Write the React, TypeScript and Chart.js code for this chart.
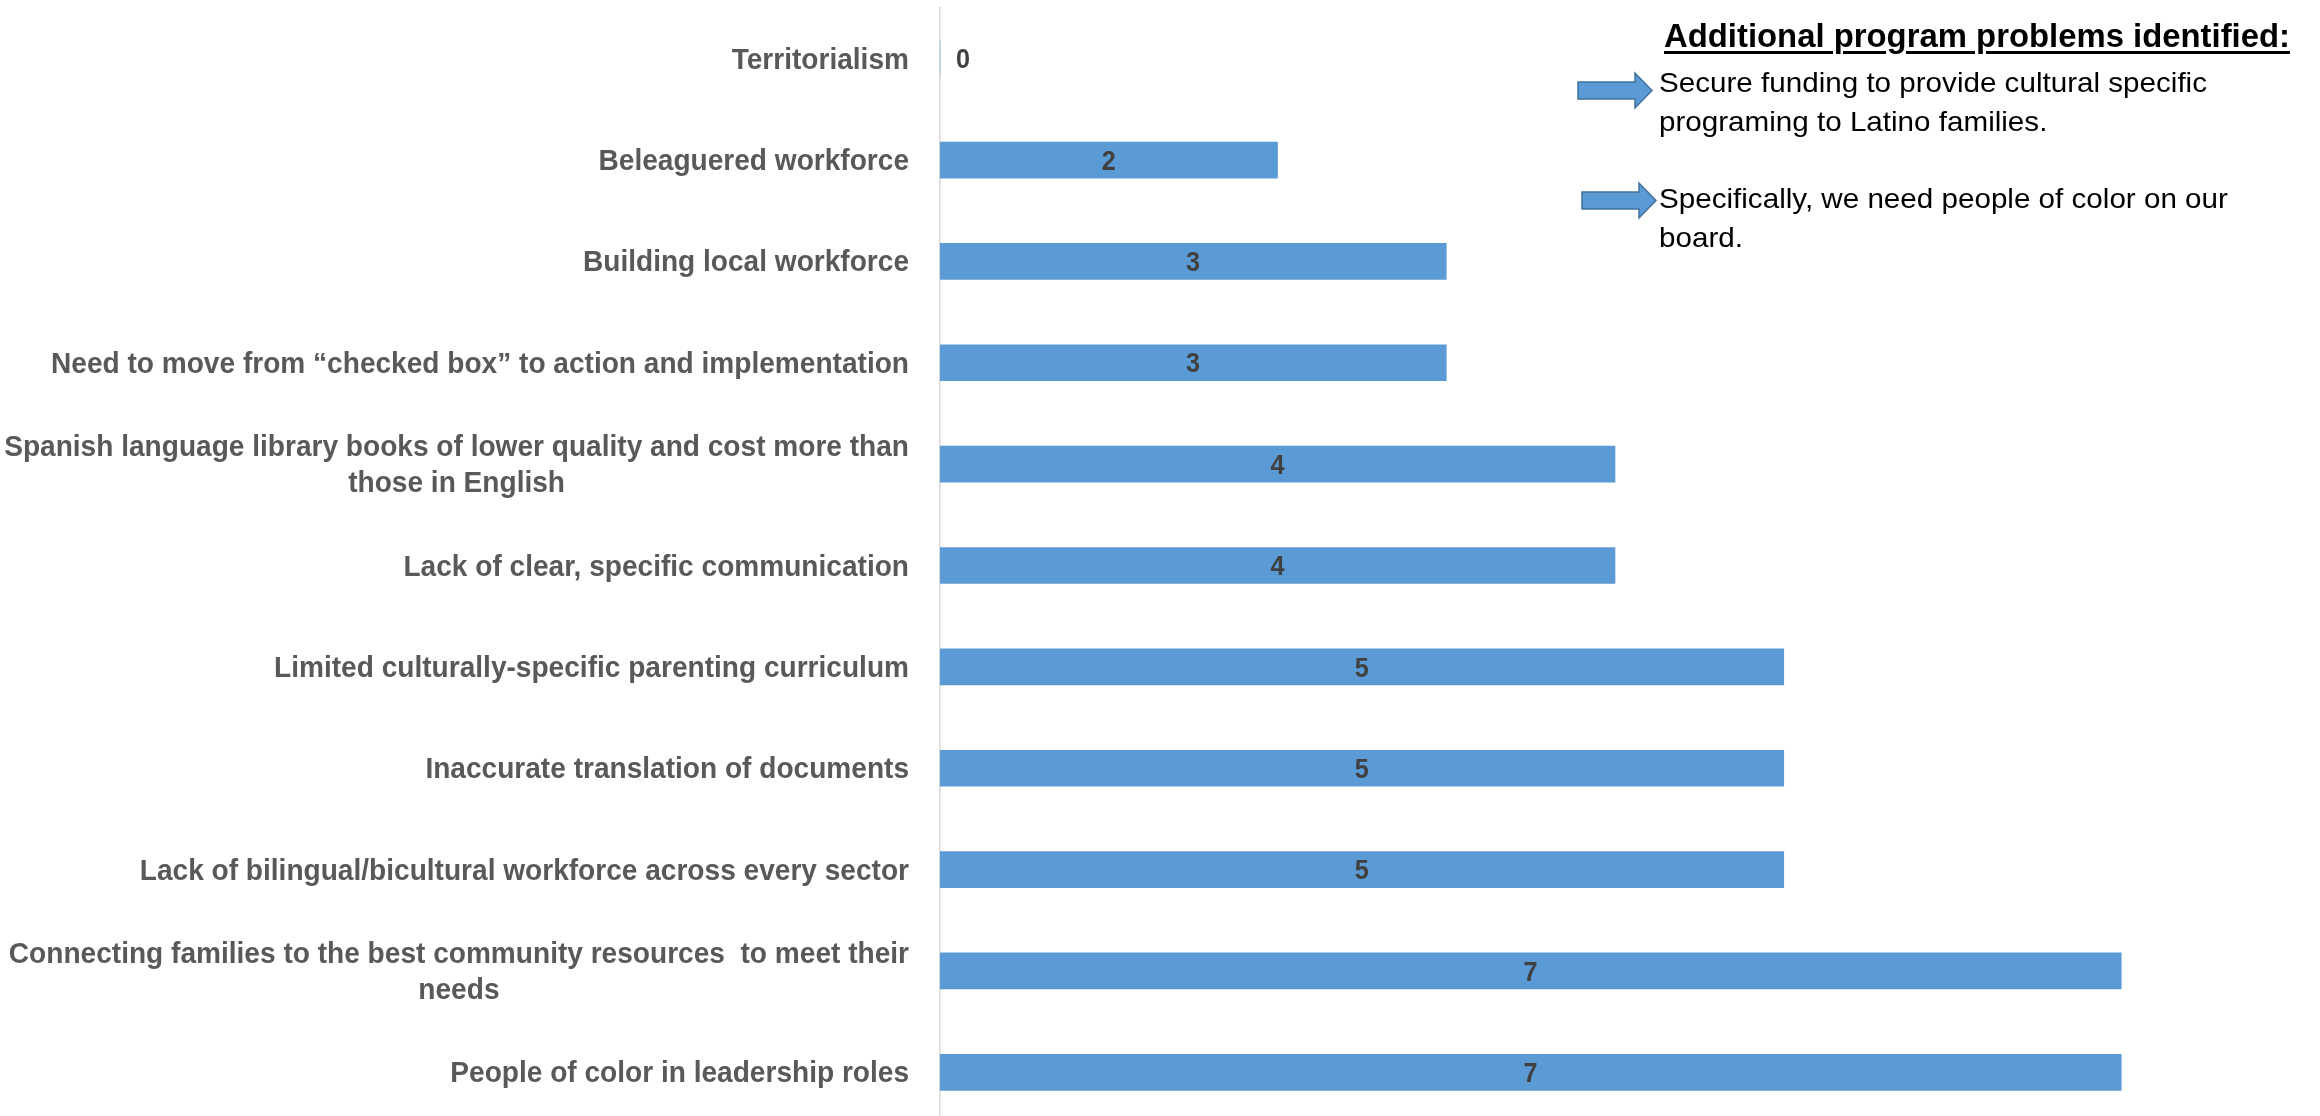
import React, { useEffect, useRef } from "react";
import { Chart, registerables } from "chart.js";

Chart.register(...registerables);

const categories: (string | string[])[] = [
  "Territorialism",
  "Beleaguered workforce",
  "Building local workforce",
  "Need to move from \u201Cchecked box\u201D to action and implementation",
  ["Spanish language library books of lower quality and cost more than", "those in English"],
  "Lack of clear, specific communication",
  "Limited culturally-specific parenting curriculum",
  "Inaccurate translation of documents",
  "Lack of bilingual/bicultural workforce across every sector",
  ["Connecting families to the best community resources  to meet their", "needs"],
  "People of color in leadership roles",
];

const counts = [0, 2, 3, 3, 4, 4, 5, 5, 5, 7, 7];

const axisMin = 0;
const axisMax = 8;

const noteTitle = "Additional program problems identified:";
const notes: string[][] = [
  ["Secure funding to provide cultural specific", "programing to Latino families."],
  ["Specifically, we need people of color on our", "board."],
];

const FONT = "'Liberation Sans', Arial, sans-serif";
const CAT_SIZE = 29;
const VAL_SIZE = 28;
const LINE_H = 35.5;
const BAR_COLOR = "#5B9BD5";

// target widths (px) used to emulate the condensed look of the original font
const CAT_TARGET_W = 858;
const TITLE_SIZE = 34;
const TITLE_TARGET_W = 626;
const NOTE_SIZE = 28;
const NOTE_TARGET_W = 548;

function measure(text: string, font: string): number {
  const c = document.createElement("canvas");
  const ctx = c.getContext("2d")!;
  ctx.font = font;
  return ctx.measureText(text).width;
}

const labelPlugin = {
  id: "customLabels",
  afterDatasetsDraw(chart: any) {
    const ctx = chart.ctx as CanvasRenderingContext2D;
    const yScale = chart.scales.y;
    const area = chart.chartArea;
    ctx.save();
    ctx.textBaseline = "middle";
    ctx.textAlign = "center";
    ctx.font = `bold ${CAT_SIZE}px ${FONT}`;
    const longest = ctx.measureText(categories[3] as string).width;
    const f = CAT_TARGET_W / longest;
    ctx.fillStyle = "#595959";
    const right = area.left - 31;
    categories.forEach((lab, i) => {
      const lines = Array.isArray(lab) ? lab : [lab];
      const y = yScale.getPixelForTick(i);
      const w = Math.max(...lines.map((l) => ctx.measureText(l).width)) * f;
      const cx = right - w / 2;
      lines.forEach((l, j) => {
        ctx.save();
        ctx.translate(cx, y + 2 + (j - (lines.length - 1) / 2) * LINE_H);
        ctx.scale(f, 1);
        ctx.fillText(l, 0, 0);
        ctx.restore();
      });
    });
    const meta = chart.getDatasetMeta(0);
    ctx.font = `bold ${VAL_SIZE}px ${FONT}`;
    ctx.fillStyle = "#404040";
    meta.data.forEach((bar: any, i: number) => {
      const { x, base, y } = bar.getProps(["x", "base", "y"], true);
      let cx = (x + base) / 2;
      if (x - base < 40) cx = base + 23;
      ctx.save();
      ctx.translate(cx, y + 2);
      ctx.scale(0.9, 1);
      ctx.fillText(String(counts[i]), 0, 0);
      ctx.restore();
    });
    ctx.restore();
  },
};

function Arrow({ left, top }: { left: number; top: number }) {
  return (
    <svg
      width={78}
      height={40}
      style={{ position: "absolute", left: left - 2, top: top - 2 }}
    >
      <polygon
        points="2,11 59,11 59,2 76,19.5 59,37 59,28 2,28"
        fill={BAR_COLOR}
        stroke="#41719C"
        strokeWidth={1.5}
      />
    </svg>
  );
}

export default function App() {
  const ref = useRef<HTMLCanvasElement | null>(null);

  const titleScale =
    TITLE_TARGET_W / measure(noteTitle, `bold ${TITLE_SIZE}px ${FONT}`);
  const noteScale = NOTE_TARGET_W / measure(notes[0][0], `${NOTE_SIZE}px ${FONT}`);

  useEffect(() => {
    if (!ref.current) return;
    const chart = new Chart(ref.current, {
      type: "bar",
      data: {
        labels: categories as any,
        datasets: [
          {
            data: counts,
            backgroundColor: BAR_COLOR,
            borderWidth: 0,
            barThickness: 36,
          },
        ],
      },
      options: {
        indexAxis: "y",
        animation: false,
        responsive: false,
        layout: { padding: { left: 940, right: 30, top: 8, bottom: 0 } },
        plugins: {
          legend: { display: false },
          tooltip: { enabled: false },
        },
        scales: {
          x: { display: false, min: axisMin, max: axisMax },
          y: {
            type: "category",
            grid: { display: false, drawTicks: false },
            border: { display: true, color: "#D9D9D9", width: 1.5 },
            ticks: { display: false },
            afterFit: (s: any) => {
              s.width = 0;
            },
          },
        },
      },
      plugins: [labelPlugin],
    });
    return () => chart.destroy();
  }, []);

  return (
    <div
      style={{
        position: "fixed",
        left: 0,
        top: 0,
        width: 2320,
        height: 1116,
        overflow: "hidden",
        background: "#fff",
      }}
    >
      <canvas
        ref={ref}
        width={2320}
        height={1123}
        style={{ position: "absolute", left: 0, top: 0, width: 2320, height: 1123 }}
      />
      <div
        style={{
          position: "absolute",
          left: 1664,
          top: 16,
          fontFamily: FONT,
          fontWeight: "bold",
          fontSize: TITLE_SIZE,
          lineHeight: "38px",
          color: "#000",
          textDecoration: "underline",
          textDecorationThickness: "3px",
          textUnderlineOffset: "4px",
          whiteSpace: "nowrap",
          transform: `scaleX(${titleScale})`,
          transformOrigin: "0 0",
        }}
      >
        {noteTitle}
      </div>
      <Arrow left={1578} top={73} />
      <Arrow left={1582} top={183} />
      {notes.map((para, pi) => (
        <div
          key={pi}
          style={{
            position: "absolute",
            left: 1659,
            top: pi === 0 ? 64 : 180,
            fontFamily: FONT,
            fontSize: NOTE_SIZE,
            lineHeight: "38.5px",
            color: "#000",
            whiteSpace: "nowrap",
            transform: `scaleX(${noteScale})`,
            transformOrigin: "0 0",
          }}
        >
          {para.map((l, li) => (
            <div key={li}>{l}</div>
          ))}
        </div>
      ))}
    </div>
  );
}
